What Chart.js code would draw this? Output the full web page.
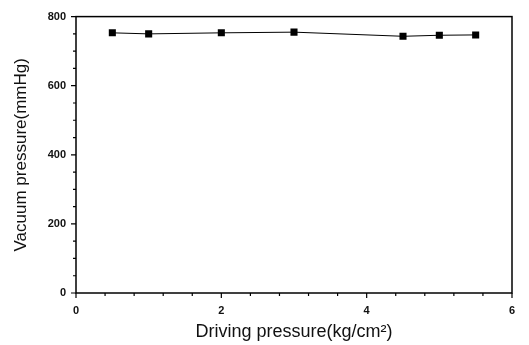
<!DOCTYPE html>
<html>
<head>
<meta charset="utf-8">
<script src="https://cdn.jsdelivr.net/npm/chart.js@4"></script>
<style>
	html, body { margin: 0; padding: 0; background: #fff; }
	#wrap { width: 529px; height: 345px; }
</style>
</head>
<body>
<div id="wrap"><canvas id="vacChart" width="529" height="345"></canvas></div>

<script>
	// values
	const drivingPressure = [0.5, 1, 2, 3, 4.5, 5, 5.5];
	const vacuumPressure = [753, 750, 753, 755, 743, 746, 747];

	const xLabelTicks = [0, 2, 4, 6];
	const yLabelTicks = [0, 200, 400, 600, 800];

	const points = drivingPressure.map((x, i) => ({ x: x, y: vacuumPressure[i] }));

	// frame + outward tick marks (long on labelled ticks, short otherwise)
	const frameTicks = {
		id: 'frameTicks',
		afterDraw(chart) {
			const { ctx, chartArea: a, scales } = chart;
			ctx.save();
			ctx.strokeStyle = '#000';

			ctx.lineWidth = 1.5;
			ctx.strokeRect(a.left, a.top, a.right - a.left, a.bottom - a.top);

			ctx.lineWidth = 1.2;
			ctx.beginPath();
			scales.x.ticks.forEach(t => {
				const px = scales.x.getPixelForValue(t.value);
				const len = xLabelTicks.includes(t.value) ? 5 : 3;
				ctx.moveTo(px, a.bottom);
				ctx.lineTo(px, a.bottom + len);
			});
			scales.y.ticks.forEach(t => {
				const py = scales.y.getPixelForValue(t.value);
				const len = yLabelTicks.includes(t.value) ? 5 : 3;
				ctx.moveTo(a.left, py);
				ctx.lineTo(a.left - len, py);
			});
			ctx.stroke();
			ctx.restore();
		}
	};

	const tickFont = { family: '"Liberation Sans", Arial, sans-serif', size: 11, weight: 'bold' };

	const ctx = document.getElementById('vacChart').getContext('2d');
	const vacChart = new Chart(ctx, {
		type: 'line',
		data: {
			datasets: [{
				label: 'Vacuum pressure',
				data: points,
				borderColor: '#000',
				backgroundColor: '#000',
				borderWidth: 1,
				pointStyle: 'rect',
				pointRadius: 5,
				pointBorderWidth: 0,
				tension: 0
			}]
		},
		options: {
			responsive: false,
			animation: false,
			layout: { padding: { top: 12, right: 17, left: 0, bottom: 0 } },
			plugins: {
				legend: { display: false },
				tooltip: { enabled: false }
			},
			scales: {
				x: {
					type: 'linear',
					min: 0, max: 6,
					grid: { display: false, drawTicks: false },
					border: { display: false },
					afterFit: (s) => { s.height = 52; },
					ticks: {
						stepSize: 0.4,
						autoSkip: false,
						maxRotation: 0,
						padding: 11,
						color: '#111',
						font: tickFont,
						callback: (v) => xLabelTicks.includes(v) ? String(v) : ''
					},
					title: {
						display: true,
						text: 'Driving pressure(kg/cm²)',
						color: '#111',
						font: { family: '"Liberation Sans", Arial, sans-serif', size: 18 },
						padding: { top: 0, bottom: 2 }
					}
				},
				y: {
					min: 0, max: 800,
					grid: { display: false, drawTicks: false },
					border: { display: false },
					afterFit: (s) => { s.width = 76; },
					ticks: {
						stepSize: 50,
						autoSkip: false,
						padding: 10,
						color: '#111',
						font: tickFont,
						callback: (v) => yLabelTicks.includes(v) ? String(v) : ''
					},
					title: {
						display: true,
						text: 'Vacuum pressure(mmHg)',
						color: '#111',
						font: { family: '"Liberation Sans", Arial, sans-serif', size: 17 },
						padding: { top: 11, bottom: 0 }
					}
				}
			}
		},
		plugins: [frameTicks]
	});
</script>
</body>
</html>
